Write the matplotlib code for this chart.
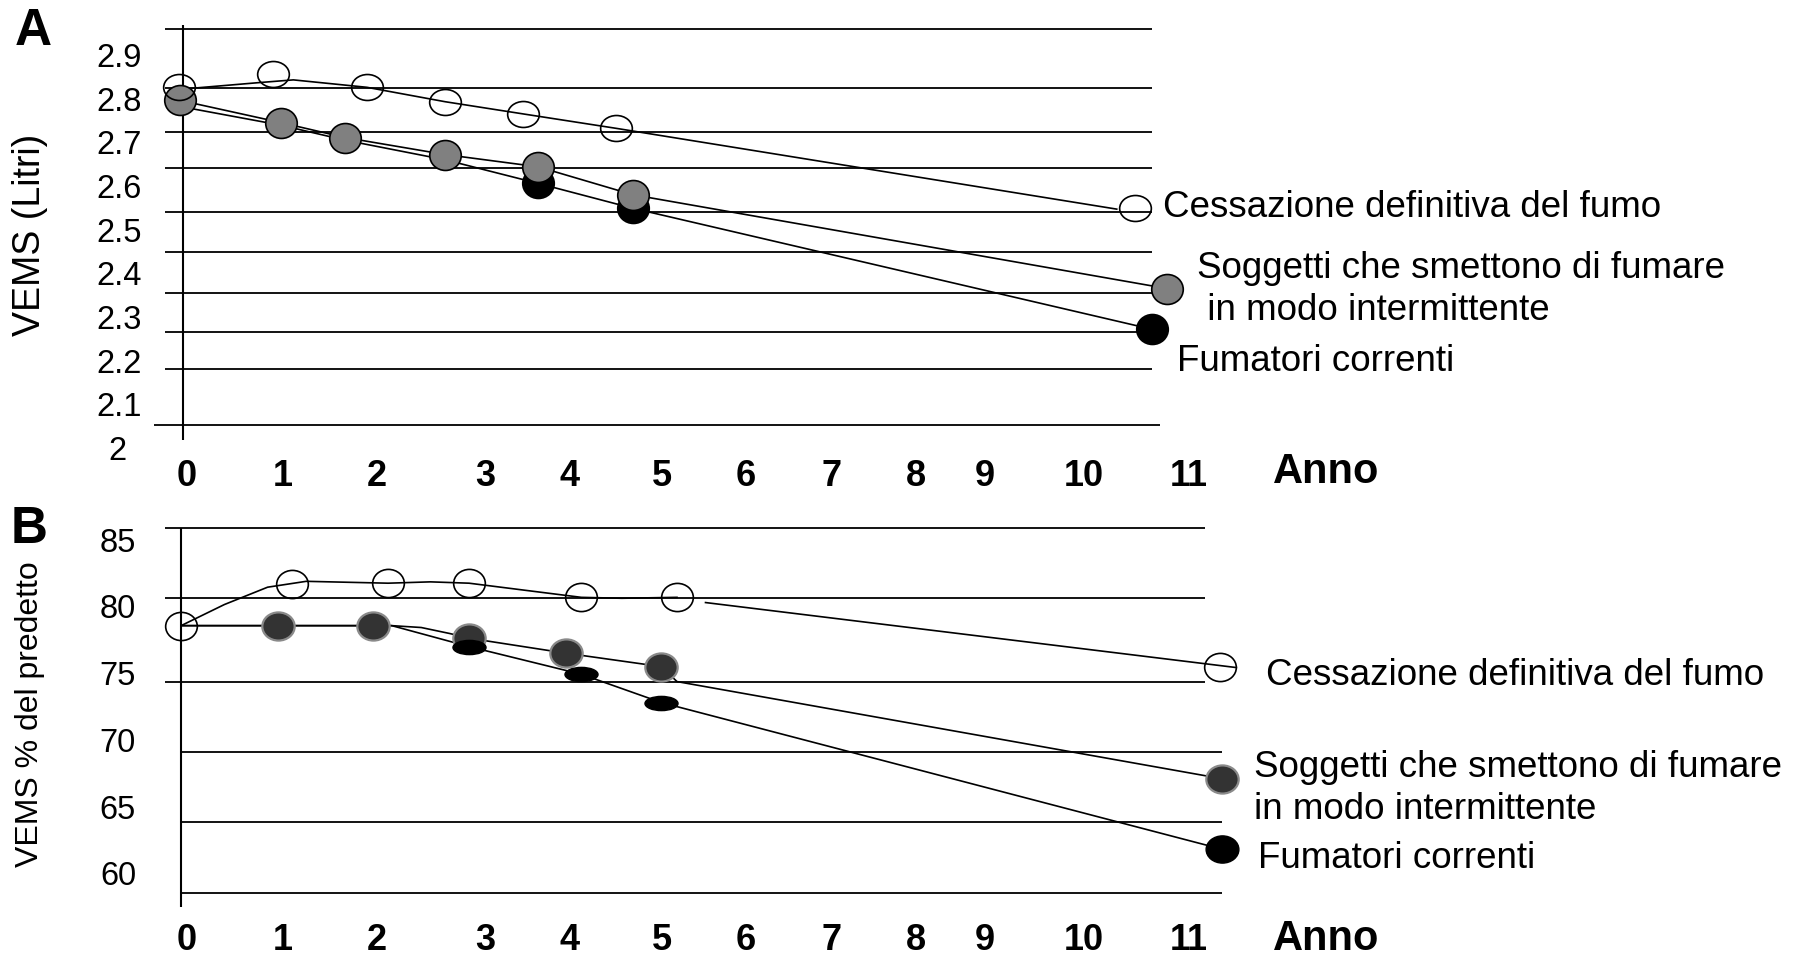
import numpy as np
import matplotlib
matplotlib.use('Agg')
import matplotlib.pyplot as plt
from matplotlib.path import Path
from matplotlib.transforms import Affine2D, ScaledTranslation

plt.rcParams['font.family'] = ['Liberation Sans', 'DejaVu Sans']

# ---------------- data ----------------
year_labels = ['0', '1', '2', '3', '4', '5', '6', '7', '8', '9', '10', '11']
year_tick_pos = [0.04, 1.08, 2.11, 3.29, 4.20, 5.21, 6.12, 7.05, 7.97, 8.72, 9.79, 10.93]

yticks_A = [2.0, 2.1, 2.2, 2.3, 2.4, 2.5, 2.6, 2.7, 2.8, 2.9]
ytick_labels_A = ['2', '2.1', '2.2', '2.3', '2.4', '2.5', '2.6', '2.7', '2.8', '2.9']
yticks_B = [60, 65, 70, 75, 80, 85]
ytick_labels_B = ['60', '65', '70', '75', '80', '85']

grid_A = [2.959, 2.824, 2.724, 2.641, 2.540, 2.449, 2.355, 2.266, 2.181, 2.053]
grid_B = [85.9, 80.64, 74.35, 69.11, 63.86, 58.57]

# Panel A - VEMS (litri)
open_A_x = [-0.04, 0.98, 2.00, 2.85, 3.70, 4.71, 10.35]
open_A_y = [2.827, 2.857, 2.826, 2.793, 2.765, 2.732, 2.549]
open_A_line_x = [-0.03, 0.11, 0.84, 1.20, 2.00, 2.85, 3.70, 4.71, 10.15]
open_A_line_y = [2.820, 2.824, 2.837, 2.843, 2.826, 2.793, 2.765, 2.732, 2.547]

gray_A_x = [-0.03, 1.07, 1.76, 2.85, 3.86, 4.89, 10.70]
gray_A_y = [2.796, 2.745, 2.711, 2.672, 2.644, 2.580, 2.365]

black_A_x = [-0.03, 1.07, 1.76, 2.85, 3.86, 4.89, 10.53]
black_A_y = [2.782, 2.739, 2.705, 2.660, 2.606, 2.549, 2.272]

# Panel B - VEMS % del predetto
open_B_x = [-0.02, 1.19, 2.23, 3.11, 4.33, 5.37, 11.27]
open_B_y = [78.56, 81.69, 81.74, 81.74, 80.68, 80.68, 75.49]
open_B_curve_x = [-0.02, 0.45, 0.92, 1.34, 2.23, 2.69, 3.11, 3.73, 4.33, 4.77, 5.37]
open_B_curve_y = [78.56, 80.14, 81.44, 81.88, 81.74, 81.84, 81.74, 81.20, 80.68, 80.61, 80.68]
open_B_tail_x = [5.68, 11.45]
open_B_tail_y = [80.29, 75.42]

gray_B_x = [1.03, 2.07, 3.11, 4.16, 5.20, 11.29]
gray_B_y = [78.56, 78.56, 77.62, 76.50, 75.49, 67.10]
gray_B_line_x = [-0.02, 2.27, 2.59, 2.90, 3.11, 4.16, 5.20, 5.37, 11.29]
gray_B_line_y = [78.56, 78.56, 78.42, 77.97, 77.62, 76.50, 75.49, 74.37, 67.10]

black_B_x = [3.11, 4.33, 5.20, 11.29]
black_B_y = [76.99, 74.92, 72.80, 61.82]
black_B_line_x = [-0.02, 2.27, 3.11, 4.33, 5.20, 11.29]
black_B_line_y = [78.56, 78.56, 76.99, 74.92, 72.80, 61.82]

names_A = ['Cessazione definitiva del fumo',
           'Soggetti che smettono di fumare\n in modo intermittente',
           'Fumatori correnti']
names_B = ['Cessazione definitiva del fumo',
           'Soggetti che smettono di fumare\nin modo intermittente',
           'Fumatori correnti']
# baseline of the last line of each name
name_pos_A = [(10.65, 2.530), (11.02, 2.293), (10.80, 2.177)]
name_pos_B = [(11.77, 74.12), (11.64, 64.06), (11.68, 60.39)]


# ---------------- helpers ----------------
def ellipse(ry):
    return Path.unit_circle().transformed(Affine2D().scale(1.0, ry))


LW_GRID = 1.3
LW_SERIES = 1.2

fig = plt.figure(figsize=(17.93, 9.57), dpi=100)
axA = fig.add_axes([0.10204, 0.53190, 0.56441, 0.41063])
axB = fig.add_axes([0.10204, 0.08734, 0.56441, 0.34874])

for ax in (axA, axB):
    for s in ax.spines.values():
        s.set_visible(False)
    ax.set_xlim(0, 11)
    ax.tick_params(length=0)
    ax.set_xticks(year_tick_pos, year_labels, fontsize=26, fontweight='bold')

axA.set_ylim(2.0, 2.9)
axB.set_ylim(60, 85)
axA.set_yticks(yticks_A, ytick_labels_A, fontsize=23.5)
axB.set_yticks(yticks_B, ytick_labels_B, fontsize=23.5)
axA.tick_params(axis='y', pad=29.6)
axB.tick_params(axis='y', pad=33.8)
axA.tick_params(axis='x', pad=8)
axB.tick_params(axis='x', pad=36)
# the "2" label sits further left in the original
lab2 = axA.get_yticklabels()[0]
lab2.set_transform(lab2.get_transform() + ScaledTranslation(-0.15, 0, fig.dpi_scale_trans))

# ---------------- panel A ----------------
axA.hlines(grid_A[:-1], -0.19, 10.53, color='black', lw=LW_GRID, clip_on=False, zorder=1)
axA.hlines(grid_A[-1:], -0.32, 10.62, color='black', lw=LW_GRID, clip_on=False, zorder=1)
axA.vlines(0, 2.018, 2.968, color='black', lw=1.5, clip_on=False, zorder=1)

axA.plot(open_A_line_x, open_A_line_y, color='black', lw=LW_SERIES, clip_on=False, zorder=2)
axA.plot(gray_A_x, gray_A_y, color='black', lw=LW_SERIES, clip_on=False, zorder=2)
axA.plot(black_A_x, black_A_y, color='black', lw=LW_SERIES, clip_on=False, zorder=2)

# black markers of the first four years are hidden under the grey ones
axA.plot(black_A_x[4:], black_A_y[4:], ls='none', marker=ellipse(0.95), markersize=22.7,
         mfc='black', mec='black', mew=1.2, clip_on=False, zorder=3)
axA.plot(gray_A_x, gray_A_y, ls='none', marker=ellipse(0.95), markersize=22.7,
         mfc='#808080', mec='black', mew=1.2, clip_on=False, zorder=4)
axA.plot(open_A_x, open_A_y, ls='none', marker=ellipse(0.82), markersize=22.8,
         mfc='none', mec='black', mew=1.2, clip_on=False, zorder=5)

axA.set_ylabel('VEMS (Litri)', fontsize=27)
axA.yaxis.label.set_verticalalignment('center')
axA.yaxis.set_label_coords(-0.1508, 0.5435)

for name, (tx, ty) in zip(names_A, name_pos_A):
    axA.text(tx, ty, name, fontsize=26.5, ha='left', va='baseline', linespacing=1.27)
axA.text(12.43, 1.919, 'Anno', fontsize=30, fontweight='bold', ha='center', va='baseline')

# ---------------- panel B ----------------
axB.hlines(grid_B[:3], -0.20, 11.11, color='black', lw=LW_GRID, clip_on=False, zorder=1)
axB.hlines(grid_B[3:], -0.02, 11.29, color='black', lw=LW_GRID, clip_on=False, zorder=1)
axB.vlines(-0.02, 57.51, 85.9, color='black', lw=1.5, clip_on=False, zorder=1)

axB.plot(open_B_curve_x, open_B_curve_y, color='black', lw=LW_SERIES, clip_on=False, zorder=2)
axB.plot(open_B_tail_x, open_B_tail_y, color='black', lw=LW_SERIES, clip_on=False, zorder=2)
axB.plot(gray_B_line_x, gray_B_line_y, color='black', lw=LW_SERIES, clip_on=False, zorder=2)
axB.plot(black_B_line_x, black_B_line_y, color='black', lw=LW_SERIES, clip_on=False, zorder=2)

axB.plot(gray_B_x, gray_B_y, ls='none', marker=ellipse(0.87), markersize=23.3,
         mfc='#333333', mec='#8a8a8a', mew=1.6, clip_on=False, zorder=3)
axB.plot(black_B_x[:-1], black_B_y[:-1], ls='none', marker=ellipse(0.43), markersize=23.8,
         mfc='black', mec='black', mew=1.0, clip_on=False, zorder=4)
axB.plot(black_B_x[-1:], black_B_y[-1:], ls='none', marker=ellipse(0.83), markersize=23.6,
         mfc='black', mec='black', mew=1.0, clip_on=False, zorder=4)
axB.plot(open_B_x, open_B_y, ls='none', marker=ellipse(0.89), markersize=22.8,
         mfc='none', mec='black', mew=1.2, clip_on=False, zorder=5)

axB.set_ylabel('VEMS % del predetto', fontsize=23)
axB.yaxis.label.set_verticalalignment('center')
axB.yaxis.set_label_coords(-0.1508, 0.4776)

for name, (tx, ty) in zip(names_B, name_pos_B):
    axB.text(tx, ty, name, fontsize=26.5, ha='left', va='baseline', linespacing=1.27)
axB.text(12.43, 54.25, 'Anno', fontsize=30, fontweight='bold', ha='center', va='baseline')

# panel letters
fig.text(0.0183, 0.9675, 'A', fontsize=37, fontweight='bold', ha='center', va='center')
fig.text(0.0160, 0.4471, 'B', fontsize=37, fontweight='bold', ha='center', va='center')

fig.savefig('out.png', dpi=100)
